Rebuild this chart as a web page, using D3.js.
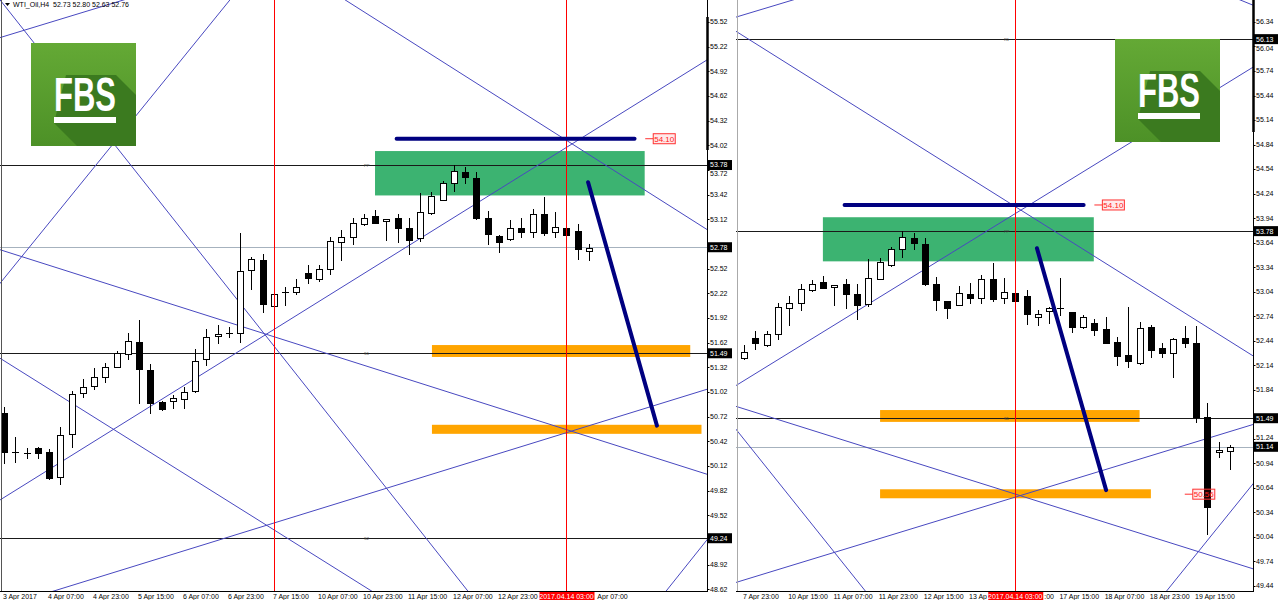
<!DOCTYPE html>
<html><head><meta charset="utf-8">
<script src="https://cdn.jsdelivr.net/npm/d3@7"></script>
<style>
html,body{margin:0;padding:0;background:#fff;}
svg{display:block;}
text{font-family:"Liberation Sans",Arial,sans-serif;}
</style></head><body>
<svg id="chart" width="1280" height="600"></svg>
<script>
// ================= DATA =================
// WTI_Oil H4 bars (combined index 0..69; left view shows 0..52, right view 26..69)
const barOpen  = [50.76,50.29,50.27,50.34,50.29,49.98,50.51,51.01,51.09,51.20,
                  51.32,51.48,51.63,51.29,50.90,50.91,50.93,51.03,51.42,51.70,
                  51.73,51.74,52.50,52.63,52.07,52.23,52.23,52.47,52.39,52.52,
                  52.84,52.90,53.06,53.16,53.10,53.13,53.01,52.89,53.20,53.36,
                  53.56,53.69,53.62,53.13,52.92,52.88,53.01,52.96,53.19,52.96,
                  53.02,52.98,52.73,52.80,52.84,52.79,52.61,52.66,52.58,52.42,
                  52.26,52.17,52.61,52.35,52.29,52.47,52.41,51.50,51.08,51.09];
const barHigh  = [50.84,50.47,50.34,50.35,50.33,50.59,51.03,51.18,51.31,51.37,
                  51.52,51.74,51.90,51.36,50.91,50.98,51.08,51.54,51.79,51.83,
                  51.81,52.95,52.66,52.70,52.22,52.30,52.39,52.56,52.56,52.90,
                  52.99,53.13,53.18,53.23,53.12,53.19,53.13,53.44,53.45,53.59,
                  53.78,53.76,53.69,53.22,52.93,53.11,53.14,53.24,53.39,53.21,
                  53.04,53.06,52.82,52.85,53.21,52.79,52.75,52.70,52.73,52.48,
                  52.85,52.67,52.63,52.41,52.47,52.62,52.62,51.68,51.20,51.16];
const barLow   = [50.16,50.17,50.22,50.22,49.96,49.90,50.35,50.96,51.05,51.14,
                  51.32,51.42,50.88,50.76,50.80,50.82,50.82,51.02,51.35,51.61,
                  51.69,51.63,52.27,51.99,52.05,52.08,52.21,52.34,52.37,52.46,
                  52.63,52.82,53.05,53.08,52.87,52.84,52.70,52.86,53.19,53.35,
                  53.46,53.56,53.12,52.82,52.72,52.87,52.90,52.90,52.93,52.90,
                  52.92,52.64,52.63,52.66,52.75,52.55,52.60,52.51,52.41,52.14,
                  52.12,52.15,52.24,52.24,52.00,52.36,51.44,50.07,51.02,50.87];
const barClose = [50.29,50.28,50.28,50.28,49.97,50.50,50.99,51.08,51.20,51.32,
                  51.49,51.64,51.30,50.88,50.81,50.95,51.02,51.40,51.69,51.72,
                  51.74,52.49,52.64,52.09,52.21,52.22,52.30,52.41,52.52,52.85,
                  52.90,53.07,53.13,53.08,53.12,53.01,52.87,53.21,53.40,53.56,
                  53.71,53.63,53.13,52.94,52.84,53.02,52.96,53.19,52.95,53.03,
                  52.93,52.76,52.77,52.84,52.83,52.61,52.73,52.57,52.41,52.25,
                  52.19,52.60,52.33,52.29,52.46,52.41,51.50,50.40,51.10,51.14];

// Thin trend lines: two anchors each (bar index, price), drawn as full lines
const trendIdxA   = [-0.36, -0.36, 20.09, -0.36, -0.36, -0.36,  4.71, 30.31, 58.93, 66.00];
const trendPriceA = [55.33, 55.79, 55.79, 52.75, 51.43, 49.705, 48.61, 55.79, 48.61, 56.83];
const trendIdxB   = [30.34, 41.16, -0.36, 70.96, 32.53, 70.96, 70.96, 70.96, 70.96, 70.96];
const trendPriceB = [56.61, 48.61, 52.34, 49.65, 48.61, 55.78, 51.41, 52.26, 50.673, 56.55];

// Filled zones
const zoneIdxFrom = [32.98, 38.04, 38.04];
const zoneIdxTo   = [56.95, 61.00, 62.00];
const zoneHigh    = [53.95, 51.59, 50.62];
const zoneLow     = [53.41, 51.445, 50.51];
const zoneColor   = ["#3cb371", "#ffa500", "#ffa500"];

// Thick navy segments
const navyIdxFrom   = [34.90, 51.92];
const navyIdxTo     = [56.05, 58.04];
const navyPriceFrom = [54.10, 53.57];
const navyPriceTo   = [54.10, 50.61];

// Pivot levels
const pivotLevels = [56.13, 53.78, 51.49, 49.24];
const pivotNames  = ["R1", "PP", "S1", "S2"];

// Red vertical lines (bar index) and the selected time label
const vLineIdx = [24, 50];
const selectedIdx = 50;
const selectedLabel = "2017.04.14 03:00";

// Red price labels
const priceLabelValue = [54.10, 50.56];
const priceLabelIdx   = [57.0, 65.0];

// Price axis tick labels
const leftTicks  = [55.52,55.22,54.92,54.62,54.32,54.02,53.72,53.42,53.12,52.82,52.52,52.22,
                    51.92,51.62,51.32,51.02,50.72,50.42,50.12,49.82,49.52,49.22,48.92,48.62];
const rightTicks = [56.34,56.04,55.74,55.44,55.14,54.84,54.54,54.24,53.94,53.64,53.34,53.04,
                    52.74,52.44,52.14,51.84,51.54,51.24,50.94,50.64,50.34,50.04,49.74,49.44];

// Time axis labels
const leftTimeIdx  = [0,4,8,12,16,20,24,28,32,36,40,44,48,52];
const leftTimeText = ["3 Apr 2017","4 Apr 07:00","4 Apr 23:00","5 Apr 15:00","6 Apr 07:00","6 Apr 23:00",
                      "7 Apr 15:00","10 Apr 07:00","10 Apr 23:00","11 Apr 15:00","12 Apr 07:00","12 Apr 23:00",
                      "13 Apr 15:00","14 Apr 07:00"];
const rightTimeIdx  = [26,30,34,38,42,46,50,54,58,62,66];
const rightTimeText = ["7 Apr 23:00","10 Apr 15:00","11 Apr 07:00","11 Apr 23:00","12 Apr 15:00","13 Apr 07:00",
                       "13 Apr 23:00","17 Apr 15:00","18 Apr 07:00","18 Apr 23:00","19 Apr 15:00"];

// Bid line per snapshot
const bidValue = [52.78, 51.14];
const headerText = "WTI_Oil,H4  52.73 52.80 52.63 52.76";

// ================= LAYOUT =================
const W = 1280, H = 600, plotBottom = 591;
const panels = [
  {id:"L", x0:0,   x1:707,  idxDomain:[-0.356, 62.49], priceDomain:[48.598, 55.7876],
   barFrom:0, barTo:52, ticks:leftTicks, timeIdx:leftTimeIdx, timeText:leftTimeText,
   bid:bidValue[0], pivotLabelIdx:32, logo:{x:31,y:43}, header:true, thick:[17,150], border:"#555"},
  {id:"R", x0:736, x1:1253, idxDomain:[25.292, 71.036], priceDomain:[49.375, 56.609],
   barFrom:26, barTo:69, ticks:rightTicks, timeIdx:rightTimeIdx, timeText:rightTimeText,
   bid:bidValue[1], pivotLabelIdx:49, logo:{x:1115,y:39}, header:false, thick:[0,132], border:"#aaa"}
];

const svg = d3.select("#chart");
svg.append("rect").attr("width",W).attr("height",H).attr("fill","#fff");
const defs = svg.append("defs");
const grad = defs.append("linearGradient").attr("id","fbsg").attr("x1",0).attr("y1",0).attr("x2",0).attr("y2",1);
grad.append("stop").attr("offset","0%").attr("stop-color","#64a935");
grad.append("stop").attr("offset","100%").attr("stop-color","#4d9127");

function drawLogo(g, x, y) {
  const lg = g.append("g").attr("transform", `translate(${x},${y})`);
  lg.append("rect").attr("width",105).attr("height",103).attr("fill","url(#fbsg)");
  lg.append("polygon")
    .attr("points","35,32 85,32 105,52 105,103 46,103 23,80")
    .attr("fill","#3b7a1f");
  lg.append("text").attr("x",23).attr("y",68)
    .attr("textLength",62).attr("lengthAdjust","spacingAndGlyphs")
    .attr("font-family","'DejaVu Sans',sans-serif").attr("font-weight","bold")
    .attr("font-size",48).attr("fill","#fff").text("FBS");
  lg.append("rect").attr("x",23).attr("y",74).attr("width",62).attr("height",6).attr("fill","#fff");
}

// keep only the part of a label that is not covered by the box [bx0, bx1]
function trimUnderBox(sel, bx0, bx1) {
  const node = sel.node();
  const str = node.textContent;
  const vis = [];
  for (let j = 0; j < str.length; j++) {
    const s = node.getStartPositionOfChar(j).x, e = node.getEndPositionOfChar(j).x;
    vis.push(e <= bx0 || s >= bx1);
  }
  if (vis.every(v => v)) return;
  let pre = 0; while (pre < str.length && vis[pre]) pre++;
  let suf = str.length; while (suf > 0 && vis[suf - 1]) suf--;
  const prefix = str.slice(0, pre).trimEnd();
  const suffix = str.slice(suf).trimStart();
  if (prefix.length) { sel.text(prefix); }
  else if (suffix.length) {
    const startJ = str.length - suffix.length;
    const sx = node.getStartPositionOfChar(startJ).x;
    sel.attr("x", sx).text(suffix);
  } else sel.remove();
}

panels.forEach((p) => {
  const xs = d3.scaleLinear().domain(p.idxDomain).range([p.x0, p.x1]);
  const ys = d3.scaleLinear().domain(p.priceDomain).range([plotBottom, 0]);
  const inView = v => v > p.priceDomain[0] && v < p.priceDomain[1];
  const clipId = "clip" + p.id;
  defs.append("clipPath").attr("id", clipId)
    .append("rect").attr("x", p.x0).attr("y", 0).attr("width", p.x1 - p.x0).attr("height", plotBottom);
  const g = svg.append("g").attr("clip-path", `url(#${clipId})`);

  // zones (background)
  zoneColor.forEach((col, k) => {
    g.append("rect")
      .attr("x", xs(zoneIdxFrom[k])).attr("y", ys(zoneHigh[k]))
      .attr("width", xs(zoneIdxTo[k]) - xs(zoneIdxFrom[k]))
      .attr("height", ys(zoneLow[k]) - ys(zoneHigh[k]))
      .attr("fill", col);
  });

  // pivot lines
  pivotLevels.filter(inView).forEach((lv) => {
    const yy = Math.round(ys(lv)) + 0.5;
    g.append("line").attr("x1", p.x0).attr("x2", p.x1).attr("y1", yy).attr("y2", yy)
      .attr("stroke", "#1a1a1a").attr("stroke-width", 1);
  });
  // bid line
  {
    const yy = Math.round(ys(p.bid)) + 0.5;
    g.append("line").attr("x1", p.x0).attr("x2", p.x1).attr("y1", yy).attr("y2", yy)
      .attr("stroke", "#a6b2be").attr("stroke-width", 1.2);
  }
  // pivot tiny labels
  pivotLevels.forEach((lv, k) => {
    if (!inView(lv)) return;
    g.append("text").attr("x", xs(p.pivotLabelIdx)).attr("y", ys(lv) + 2)
      .attr("font-size", 4).attr("fill", "#444").text(pivotNames[k]);
  });

  // thin trend lines (extended across the view)
  const ext = [p.idxDomain[0] - 2, p.idxDomain[1] + 2];
  trendIdxA.forEach((ia, k) => {
    const slope = (trendPriceB[k] - trendPriceA[k]) / (trendIdxB[k] - ia);
    const pr = i => trendPriceA[k] + (i - ia) * slope;
    g.append("line")
      .attr("x1", xs(ext[0])).attr("y1", ys(pr(ext[0])))
      .attr("x2", xs(ext[1])).attr("y2", ys(pr(ext[1])))
      .attr("stroke", "#4848c0").attr("stroke-width", 1);
  });

  // candles
  for (let i = p.barFrom; i <= p.barTo; i++) {
    const o = barOpen[i], h = barHigh[i], l = barLow[i], c = barClose[i];
    const cx = Math.round(xs(i));
    const yO = Math.round(ys(o)), yC = Math.round(ys(c));
    const yH = Math.round(ys(h)), yL = Math.round(ys(l));
    const top = Math.min(yO, yC), bot = Math.max(yO, yC);
    g.append("line").attr("x1", cx + 0.5).attr("x2", cx + 0.5).attr("y1", yH).attr("y2", yL + 1)
      .attr("stroke", "#000").attr("stroke-width", 1);
    if (bot - top < 2) {
      g.append("line").attr("x1", cx - 3).attr("x2", cx + 4).attr("y1", top + 0.5).attr("y2", top + 0.5)
        .attr("stroke", "#000").attr("stroke-width", 1);
    } else {
      g.append("rect").attr("x", cx - 2.5).attr("y", top + 0.5).attr("width", 6).attr("height", bot - top)
        .attr("fill", c >= o ? "#fff" : "#000").attr("stroke", "#000").attr("stroke-width", 1);
    }
  }

  // red vertical lines
  vLineIdx.forEach(vi => {
    const xx = Math.round(xs(vi));
    g.append("rect").attr("x", xx).attr("y", 0).attr("width", 1).attr("height", plotBottom)
      .attr("fill", "#ff0000").attr("shape-rendering", "crispEdges");
  });

  // navy thick lines
  navyIdxFrom.forEach((fi, k) => {
    g.append("line")
      .attr("x1", xs(fi)).attr("y1", ys(navyPriceFrom[k]))
      .attr("x2", xs(navyIdxTo[k])).attr("y2", ys(navyPriceTo[k]))
      .attr("stroke", "#000080").attr("stroke-width", 4).attr("stroke-linecap", "round");
  });

  // red price labels
  priceLabelValue.forEach((v, k) => {
    const ax = xs(priceLabelIdx[k]), yy = ys(v);
    g.append("line").attr("x1", ax).attr("x2", ax + 8).attr("y1", yy).attr("y2", yy)
      .attr("stroke", "#ff3030").attr("stroke-width", 1);
    g.append("rect").attr("x", ax + 8).attr("y", yy - 5).attr("width", 22).attr("height", 10)
      .attr("fill", "rgba(255,40,40,0.10)").attr("stroke", "#ff3030").attr("stroke-width", 1);
    g.append("text").attr("x", ax + 19).attr("y", yy).attr("dy", "0.35em")
      .attr("text-anchor", "middle").attr("font-size", 8).attr("fill", "#ff2020").text(v.toFixed(2));
  });

  // logo
  drawLogo(svg, p.logo.x, p.logo.y);

  // panel border lines
  svg.append("line").attr("x1", p.x0 + 1.5).attr("x2", p.x0 + 1.5).attr("y1", 0).attr("y2", plotBottom)
    .attr("stroke", p.border).attr("stroke-width", 1);

  // axes
  const ax = p.x1 + 0.5;
  svg.append("line").attr("x1", ax).attr("x2", ax).attr("y1", 0).attr("y2", plotBottom + 1)
    .attr("stroke", "#000").attr("stroke-width", 1);
  svg.append("line").attr("x1", ax).attr("x2", ax).attr("y1", p.thick[0]).attr("y2", p.thick[1])
    .attr("stroke", "#000").attr("stroke-width", 2.5);
  svg.append("line").attr("x1", p.x0).attr("x2", p.x1 + 1).attr("y1", plotBottom + 0.5).attr("y2", plotBottom + 0.5)
    .attr("stroke", "#000").attr("stroke-width", 1);

  // price boxes: pivots visible + bid
  const boxVals = pivotLevels.filter(inView).concat([p.bid]);
  const boxYs = boxVals.map(v => ys(v));

  // price ticks (labels hidden by a box are dropped, near ones pushed clear of it)
  p.ticks.forEach(t => {
    let yy = ys(t);
    svg.append("line").attr("x1", ax).attr("x2", ax + 2).attr("y1", Math.round(yy) + 0.5).attr("y2", Math.round(yy) + 0.5)
      .attr("stroke", "#000");
    let skip = false;
    boxYs.forEach(by => {
      const d = yy - by;
      if (Math.abs(d) < 4.5) skip = true;
      else if (Math.abs(d) < 9) yy = by + Math.sign(d) * 9;
    });
    if (skip) return;
    svg.append("text").attr("x", p.x1 + 3).attr("y", yy).attr("dy", "0.35em")
      .attr("font-size", 7).attr("fill", "#000").text(t.toFixed(2));
  });

  boxVals.forEach(v => {
    const yy = ys(v);
    svg.append("rect").attr("x", p.x1 + 1).attr("y", yy - 5).attr("width", 24).attr("height", 10).attr("fill", "#000");
    svg.append("text").attr("x", p.x1 + 3).attr("y", yy).attr("dy", "0.35em")
      .attr("font-size", 7).attr("fill", "#fff").text(v.toFixed(2));
  });

  // time labels (parts hidden by the red time box are trimmed)
  const sx = xs(selectedIdx);
  const bx0 = sx - 27, bx1 = sx + 28;
  p.timeIdx.forEach((ti, k) => {
    const t = svg.append("text").attr("x", xs(ti) - 1).attr("y", 599)
      .attr("font-size", 7).attr("fill", "#000").text(p.timeText[k]);
    trimUnderBox(t, bx0 - 1, bx1 - 1);
  });
  svg.append("rect").attr("x", bx0).attr("y", 592).attr("width", bx1 - bx0).attr("height", 8).attr("fill", "#ff0000");
  svg.append("text").attr("x", sx).attr("y", 599).attr("text-anchor", "middle")
    .attr("font-size", 7).attr("fill", "#fff").text(selectedLabel);

  // header
  if (p.header) {
    svg.append("path").attr("d", "M5,3 L10,3 L7.5,6 Z").attr("fill", "#000");
    svg.append("text").attr("x", 13).attr("y", 4.5).attr("dy", "0.35em")
      .attr("font-size", 7).attr("fill", "#000").attr("xml:space", "preserve").text(headerText);
  }
});
</script>
</body></html>
